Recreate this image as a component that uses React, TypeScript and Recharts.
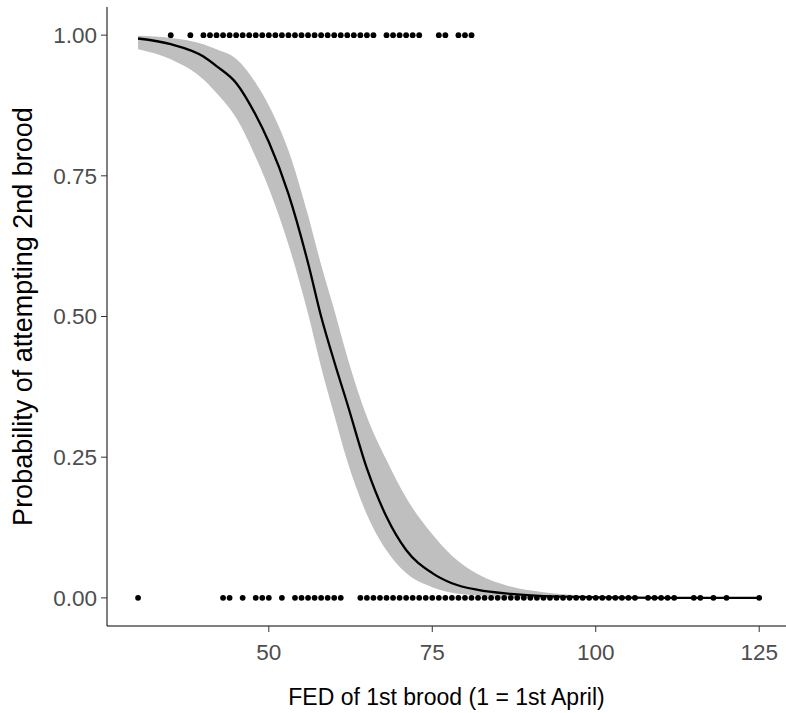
import { ComposedChart, XAxis, YAxis, Area, Line, Scatter, Label } from "recharts"

// observed broods: FED (days from 1st April) for attempted (1) / not attempted (0)
const attemptedX = [
  35, 38, 40, 41, 42, 43, 44, 45, 46, 47, 48, 49, 50, 51, 52, 53, 54, 55, 56, 57,
  58, 59, 60, 61, 62, 63, 64, 65, 66, 68, 69, 70, 71, 72, 73, 76, 77, 79, 80, 81,
]
const notAttemptedX = [
  30, 43, 44, 46, 48, 49, 50, 52, 54, 55, 56, 57, 58, 59, 60, 61,
  64, 65, 66, 67, 68, 69, 70, 71, 72, 73, 74, 75, 76, 77, 78, 79, 80, 81, 82, 83,
  84, 85, 86, 87, 88, 89, 90, 91, 92, 93, 94, 95, 96, 97, 98, 99, 100, 101, 102,
  103, 104, 105, 106, 108, 109, 110, 111, 112, 115, 116, 118, 120, 125,
]

// fitted logistic curve and its confidence band
const fitX = [30, 35, 40, 42, 45, 48, 50, 53, 56, 58, 60, 62, 65, 68, 71, 75, 78, 82, 87, 92, 100, 110, 125]
const fitP = [0.994, 0.984, 0.962, 0.945, 0.915, 0.858, 0.81, 0.718, 0.595, 0.5, 0.42, 0.345, 0.23, 0.144, 0.085, 0.044, 0.026, 0.014, 0.007, 0.003, 0.001, 0, 0]
const fitLo = [0.975, 0.957, 0.921, 0.897, 0.853, 0.783, 0.728, 0.628, 0.505, 0.41, 0.325, 0.243, 0.148, 0.084, 0.044, 0.019, 0.009, 0.004, 0.001, 0, 0, 0, 0]
const fitHi = [0.999, 0.995, 0.984, 0.975, 0.958, 0.915, 0.875, 0.795, 0.68, 0.592, 0.512, 0.428, 0.322, 0.245, 0.178, 0.113, 0.075, 0.042, 0.02, 0.01, 0.003, 0, 0]

const xTicks = [50, 75, 100, 125]
const yTicks = [0, 0.25, 0.5, 0.75, 1]

const curve = fitX.map((x, i) => ({ x, p: fitP[i], band: [fitLo[i], fitHi[i]] }))
const points = [
  ...attemptedX.map((x) => ({ x, y: 1 })),
  ...notAttemptedX.map((x) => ({ x, y: 0 })),
]

const FONT = "'Liberation Sans', Arial, sans-serif"
const tickStyle = { fill: "#4d4d4d", fontSize: 22.5, fontFamily: FONT }

const YTitle = ({ viewBox }: any) => {
  const cx = 32
  const cy = viewBox.y + viewBox.height / 2
  return (
    <text
      x={cx}
      y={cy}
      transform={`rotate(-90 ${cx} ${cy})`}
      textAnchor="middle"
      fill="#000"
      fontSize={27}
      fontFamily={FONT}
    >
      Probability of attempting 2nd brood
    </text>
  )
}

export default function App() {
  return (
    <div style={{ position: "absolute", left: 0, top: 0, width: 786, height: 713, background: "#fff", overflow: "hidden" }}>
      <ComposedChart width={786} height={713} data={curve} margin={{ top: 7, right: 0, bottom: 0, left: 0 }}>
        <XAxis
          type="number"
          dataKey="x"
          domain={[25.25, 129.1]}
          allowDataOverflow
          ticks={xTicks}
          height={87}
          tick={tickStyle}
          tickSize={6}
          tickMargin={12}
          stroke="#000"
          tickLine={{ stroke: "#333" }}
        >
          <Label value="FED of 1st brood (1 = 1st April)" position="insideBottom" offset={8} fill="#000" fontSize={23} fontFamily={FONT} />
        </XAxis>
        <YAxis
          type="number"
          domain={[-0.05, 1.05]}
          allowDataOverflow
          ticks={yTicks}
          width={107}
          tick={tickStyle}
          tickFormatter={(v: number) => v.toFixed(2)}
          tickSize={6}
          tickMargin={4}
          stroke="#000"
          tickLine={{ stroke: "#333" }}
        >
          <Label content={<YTitle />} />
        </YAxis>
        <Area
          dataKey="band"
          type="monotone"
          stroke="none"
          fill="#bfbfbf"
          fillOpacity={1}
          isAnimationActive={false}
        />
        <Line
          dataKey="p"
          type="monotone"
          stroke="#000"
          strokeWidth={2.3}
          dot={false}
          activeDot={false}
          isAnimationActive={false}
        />
        <Scatter
          data={points}
          dataKey="y"
          fill="#000"
          isAnimationActive={false}
          shape={(p: any) => <circle cx={p.cx} cy={p.cy} r={2.9} fill="#000" />}
        />
      </ComposedChart>
    </div>
  )
}
